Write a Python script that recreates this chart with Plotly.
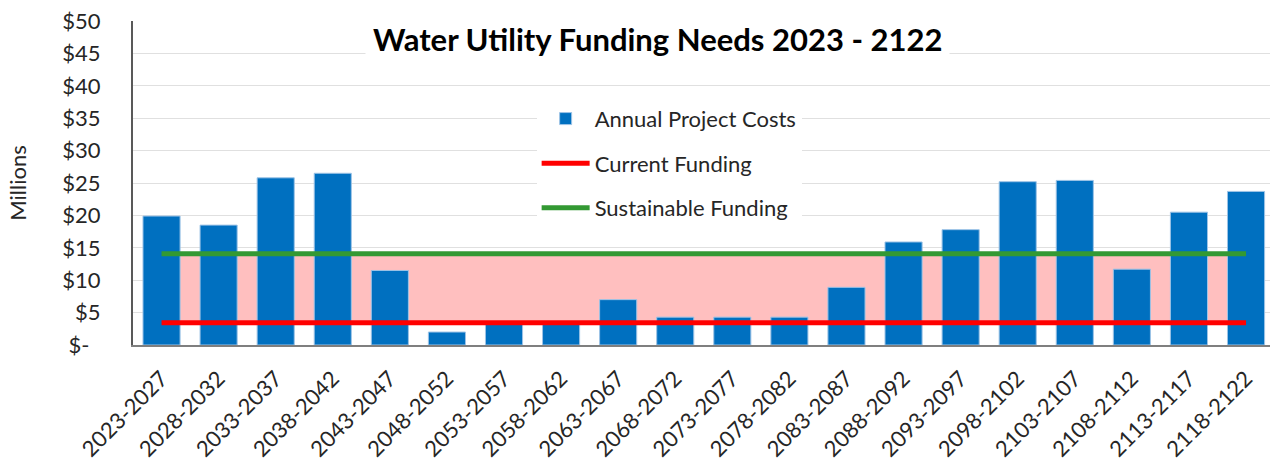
import plotly.graph_objects as go

# periods and annual project costs ($ millions)
periods = ["2023-2027", "2028-2032", "2033-2037", "2038-2042", "2043-2047",
           "2048-2052", "2053-2057", "2058-2062", "2063-2067", "2068-2072",
           "2073-2077", "2078-2082", "2083-2087", "2088-2092", "2093-2097",
           "2098-2102", "2103-2107", "2108-2112", "2113-2117", "2118-2122"]
project_costs = [19.9, 18.5, 25.8, 26.5, 11.5, 2.0, 3.5, 3.5, 7.0, 4.3,
                 4.3, 4.3, 8.9, 15.9, 17.8, 25.2, 25.4, 11.7, 20.5, 23.7]

current_funding = 3.45
sustainable_funding = 14.1

y_ticks = [0, 5, 10, 15, 20, 25, 30, 35, 40, 45, 50]
y_labels = ["$-\u00a0\u00a0", "$5", "$10", "$15", "$20", "$25",
            "$30", "$35", "$40", "$45", "$50"]

FONT = "Lato, Calibri, sans-serif"

fig = go.Figure()

fig.add_trace(go.Bar(
    x=periods, y=project_costs, name="Annual Project Costs",
    marker=dict(color="#0070C0", line=dict(color="#9DC3E6", width=1)),
    legendgroup="a",
))
fig.add_trace(go.Scatter(
    x=periods, y=[current_funding] * len(periods), name="Current Funding",
    mode="lines", line=dict(color="#FF0000", width=5),
    legendgroup="b",
))
fig.add_trace(go.Scatter(
    x=periods, y=[sustainable_funding] * len(periods), name="Sustainable Funding",
    mode="lines", line=dict(color="#339933", width=5),
    legendgroup="c",
))

# funding gap band between current and sustainable funding
fig.add_shape(
    type="rect", xref="x", yref="y",
    x0=0, x1=len(periods) - 1, y0=current_funding, y1=sustainable_funding,
    fillcolor="#FFBFBF", line=dict(width=0), layer="between",
)

fig.add_annotation(
    text="<b>Water Utility Funding Needs 2023 - 2122</b>",
    xref="paper", yref="paper", x=0.461, y=0.945,
    xanchor="center", yanchor="middle", showarrow=False,
    font=dict(family=FONT, size=31, color="black"),
    bgcolor="white", borderpad=7,
)

fig.update_layout(
    width=1270, height=466,
    margin=dict(l=133, r=0, t=21, b=121),
    paper_bgcolor="white", plot_bgcolor="white",
    bargap=0.35,
    font=dict(family=FONT, size=22, color="#262626"),
    showlegend=True,
    legend=dict(
        x=0.355, y=0.763, xanchor="left", yanchor="top",
        bgcolor="white", font=dict(family=FONT, size=22, color="#262626"),
        traceorder="grouped", tracegroupgap=13, itemwidth=48,
    ),
    xaxis=dict(
        range=[-0.5, 19.42], tickangle=-45, showgrid=False,
        showline=True, linecolor="#7F7F7F", linewidth=2,
        tickfont=dict(family=FONT, size=22, color="#262626"),
        ticklabelstandoff=10, automargin=False,
    ),
    yaxis=dict(
        range=[0, 50], tickvals=y_ticks, ticktext=y_labels,
        showgrid=True, gridcolor="#E0E0E0", gridwidth=1,
        showline=True, linecolor="#595959", linewidth=2,
        ticklabelstandoff=26, zeroline=False, automargin=False,
        title=dict(text="Millions", standoff=30,
                   font=dict(family=FONT, size=22, color="#262626")),
        tickfont=dict(family=FONT, size=22, color="#262626"),
    ),
)

fig.write_html("out.html", config={"displayModeBar": False},
               post_script="document.body.style.margin='0px';")
